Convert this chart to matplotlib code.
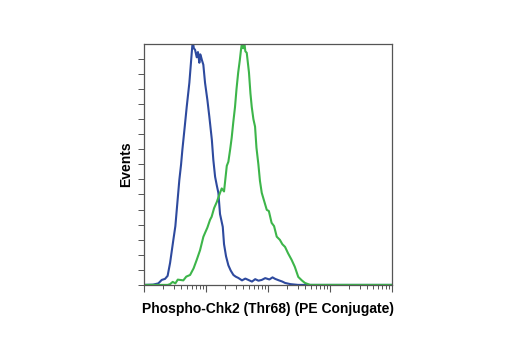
import matplotlib
matplotlib.use("Agg")
import matplotlib.pyplot as plt
from matplotlib.ticker import LogLocator, NullFormatter

# blue histogram (control), intensity vs events
blue_x = [1.0, 1.4, 1.7, 1.93, 2.18, 2.4, 2.63, 2.97, 3.2, 3.37, 3.71, 3.95, 4.15,
          4.53, 4.88, 5.38, 5.88, 6.1, 6.35, 6.65, 7.08, 7.4, 7.8, 8.05, 8.3, 8.6,
          9.04, 9.63, 10.5, 11.3, 12.4, 13.1, 14.0, 14.9, 15.8, 16.8, 18.6, 19.5,
          21.0, 22.9, 25.0, 27.6, 30.0, 33.2, 38.0, 43.0, 48.1, 55.0, 62.0, 70.0,
          79.1, 90.0, 105.0, 118.0, 130.0, 150.0, 170.0, 188.0, 230.0, 305.0, 10000.0]
blue_y = [0.0, 0.02, 0.1, 0.33, 0.4, 0.6, 1.46, 2.99, 3.9, 4.98, 6.97, 7.97, 8.96,
          10.49, 11.82, 13.41, 15.41, 16.2, 15.7, 15.6, 15.1, 15.45, 14.74, 15.3, 15.14,
          14.9, 14.61, 13.41, 12.28, 11.16, 9.63, 8.3, 7.17, 6.6, 6.11, 4.7, 3.85, 2.7,
          1.9, 1.3, 0.95, 0.66, 0.55, 0.46, 0.3, 0.42, 0.33, 0.22, 0.38, 0.28,
          0.33, 0.45, 0.36, 0.5, 0.4, 0.3, 0.22, 0.13, 0.05, 0.0, 0.0]

# green histogram (stained sample)
green_x = [1.0, 2.4, 2.63, 2.9, 3.2, 3.5, 3.81, 4.3, 4.8, 5.53, 6.3, 7.07, 8.0,
           9.05, 9.63, 10.5, 11.6, 12.3, 13.5, 14.9, 16.8, 17.9, 19.5, 21.6, 22.9,
           24.5, 25.9, 27.5, 29.3, 31.0, 33.0, 35.0, 36.6, 38.4, 39.8, 41.4, 43.0,
           45.3, 49.2, 52.0, 54.6, 58.0, 61.7, 65.0, 69.8, 74.0, 79.1, 86.0, 95.3,
           103.0, 114.0, 125.0, 138.0, 155.0, 170.0, 188.0, 210.0, 240.0, 270.0,
           307.0, 350.0, 393.0, 477.0, 10000.0]
green_y = [0.0, 0.0, 0.05, 0.2, 0.1, 0.35, 0.33, 0.3, 0.55, 0.66, 1.1, 1.66, 2.3,
           3.19, 3.45, 3.8, 4.32, 4.52, 5.1, 5.5, 6.11, 6.4, 6.2, 7.9, 8.17,
           9.0, 9.76, 10.8, 11.8, 13.0, 14.1, 14.9, 15.6, 16.2, 15.7, 16.1, 15.5,
           15.4, 14.1, 12.7, 11.8, 11.0, 10.5, 9.1, 8.0, 6.9, 6.11, 5.6, 4.98,
           4.9, 4.12, 3.9, 3.2, 2.99, 2.7, 2.52, 2.1, 1.66, 1.2, 0.53, 0.3, 0.13, 0.0, 0.0]

blue_color = "#2e4a9e"
green_color = "#3db54a"
x_label = "Phospho-Chk2 (Thr68) (PE Conjugate)"
y_label = "Events"

plt.rcParams['font.family'] = ['Liberation Sans', 'DejaVu Sans']

fig = plt.figure(figsize=(5.2, 3.5), dpi=100)
ax = fig.add_axes([0.277, 0.186, 0.477, 0.689])

ax.plot(blue_x, blue_y, color=blue_color, lw=1.5)
ax.plot(green_x, green_y, color=green_color, lw=1.5)

ax.set_xscale("log")
ax.set_xlim(1, 10000)
ax.set_ylim(0, 16)

# x ticks: decades plus minor ticks, no labels
ax.xaxis.set_major_locator(LogLocator(base=10, numticks=10))
ax.xaxis.set_minor_locator(LogLocator(base=10, subs=range(2, 10), numticks=100))
ax.xaxis.set_major_formatter(NullFormatter())
ax.xaxis.set_minor_formatter(NullFormatter())
ax.tick_params(axis="x", which="major", direction="out", length=5, width=0.8, color="#555555")
ax.tick_params(axis="x", which="minor", direction="out", length=3, width=0.7, color="#555555")

# y ticks: evenly spaced, no labels
ax.set_yticks(range(0, 16))
ax.set_yticklabels([])
ax.tick_params(axis="y", direction="out", length=4, width=0.7, color="#555555")

for sp in ax.spines.values():
    sp.set_color("#555555")
    sp.set_linewidth(0.9)

ax.set_xlabel(x_label, fontsize=10, fontweight="bold", labelpad=4)
ax.set_ylabel(y_label, fontsize=10, fontweight="bold", labelpad=0)

fig.savefig("out.png", dpi=100)
